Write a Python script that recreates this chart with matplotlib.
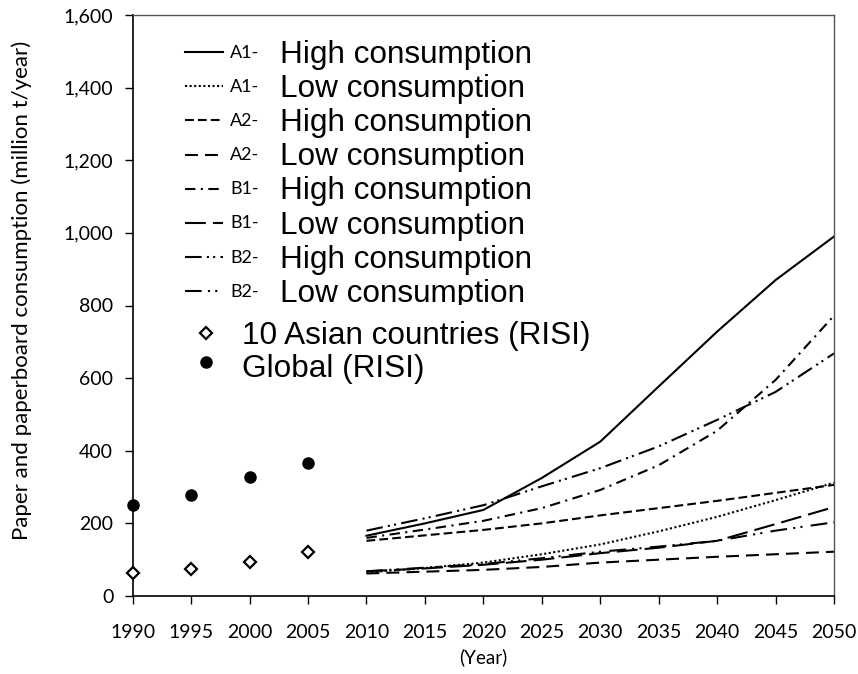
import matplotlib.pyplot as plt
from matplotlib.lines import Line2D
from matplotlib.patches import Rectangle
from matplotlib.ticker import FuncFormatter

# historical consumption (RISI), million t/year
hist_years = [1990, 1995, 2000, 2005]
asia_risi = [62, 75, 93, 121]
global_risi = [251, 278, 329, 367]

# scenario projections, million t/year
proj_years = [2010, 2015, 2020, 2025, 2030, 2035, 2040, 2045, 2050]
a1_high = [166, 200, 237, 325, 425, 577, 728, 870, 990]
a1_low = [65, 77, 92, 115, 142, 178, 218, 264, 312]
a2_high = [152, 167, 182, 200, 222, 242, 262, 284, 306]
a2_low = [62, 67, 72, 80, 92, 100, 108, 115, 122]
b1_high = [160, 183, 207, 242, 292, 360, 455, 595, 772]
b1_low = [68, 76, 86, 100, 118, 133, 152, 198, 245]
b2_high = [180, 214, 250, 302, 352, 412, 485, 562, 668]
b2_low = [68, 78, 88, 104, 122, 136, 152, 180, 203]

scenario_codes = ['A1', 'A1', 'A2', 'A2', 'B1', 'B1', 'B2', 'B2']
scenario_names = ['High consumption', 'Low consumption'] * 4
scenario_data = [a1_high, a1_low, a2_high, a2_low, b1_high, b1_low, b2_high, b2_low]
dash_styles = [
    (None, None),
    (1.0, 1.2),
    (4.2, 2.0),
    (6.2, 3.4),
    (5.0, 2.6, 1.0, 2.6),
    (10.0, 3.4),
    (8.0, 2.5, 1.0, 2.0, 1.0, 2.5),
    (8.0, 3.0, 1.0, 2.5, 1.0, 4.0),
]

W, H = 858, 674


def fx(px):
    return px / W


def fy(py):
    return 1 - py / H


fig = plt.figure(figsize=(W / 100, H / 100), dpi=100)
ax = fig.add_axes([fx(132.7), fy(596), fx(834) - fx(132.7), fy(15) - fy(596)])

for vals, ds in zip(scenario_data, dash_styles):
    line, = ax.plot(proj_years, vals, color='black', lw=1.5)
    if ds[0] is not None:
        line.set_dashes(ds)

ax.plot(hist_years, asia_risi, ls='none', marker='D', ms=6.5, mfc='white',
        mec='black', mew=1.6, clip_on=False, zorder=5)
ax.plot(hist_years, global_risi, ls='none', marker='o', ms=8, color='black',
        clip_on=False, zorder=5)

ax.set_xlim(1990, 2050)
ax.set_ylim(0, 1600)
ax.set_xticks(range(1990, 2051, 5))
ax.set_yticks(range(0, 1601, 200))
ax.yaxis.set_major_formatter(FuncFormatter(lambda v, p: f'{int(v):,}'))
ax.tick_params(direction='out', length=6, width=1, labelsize=14)
ax.tick_params(axis='x', pad=14)
ax.tick_params(axis='y', pad=8)
for lab in ax.get_xticklabels() + ax.get_yticklabels():
    lab.set_family('Lato')

for side in ['left', 'bottom']:
    ax.spines[side].set_color('black')
    ax.spines[side].set_linewidth(1.2)
for side in ['top', 'right']:
    ax.spines[side].set_color('#555555')
    ax.spines[side].set_linewidth(1.0)

fig.text(fx(22), fy(290), 'Paper and paperboard consumption (million t/year)',
         rotation=90, ha='center', va='center', fontsize=16, family='Lato')
fig.text(fx(483), fy(657), '(Year)', ha='center', va='center',
         fontsize=13.5, family='Lato')

# hand-built legend: line sample, small scenario code, large description
clip = Rectangle((0, fy(305)), 1, 1, transform=fig.transFigure, visible=False)
fig.add_artist(clip)
for i, (code, name, ds) in enumerate(zip(scenario_codes, scenario_names, dash_styles)):
    base = 62.5 + 34.2 * i
    sample = Line2D([fx(185), fx(223)], [fy(base - 10.5)] * 2, color='black',
                    lw=1.5, transform=fig.transFigure)
    if ds[0] is not None:
        sample.set_dashes(ds)
    fig.add_artist(sample)
    fig.text(fx(230), fy(base - 5), code + '-', fontsize=13, family='Lato',
             va='baseline')
    t = fig.text(fx(280), fy(base), name, fontsize=22.7,
                 family='Liberation Sans', va='baseline')
    t.set_clip_path(clip)

fig.add_artist(Line2D([fx(206)], [fy(333)], ls='none', marker='D', ms=6.5,
                      mfc='white', mec='black', mew=1.6, transform=fig.transFigure))
fig.text(fx(242), fy(344), '10 Asian countries (RISI)', fontsize=22.7,
         family='Liberation Sans', va='baseline')
fig.add_artist(Line2D([fx(206)], [fy(362)], ls='none', marker='o', ms=8,
                      color='black', transform=fig.transFigure))
fig.text(fx(242), fy(377), 'Global (RISI)', fontsize=22.7,
         family='Liberation Sans', va='baseline')

fig.savefig('out.png', dpi=100)
